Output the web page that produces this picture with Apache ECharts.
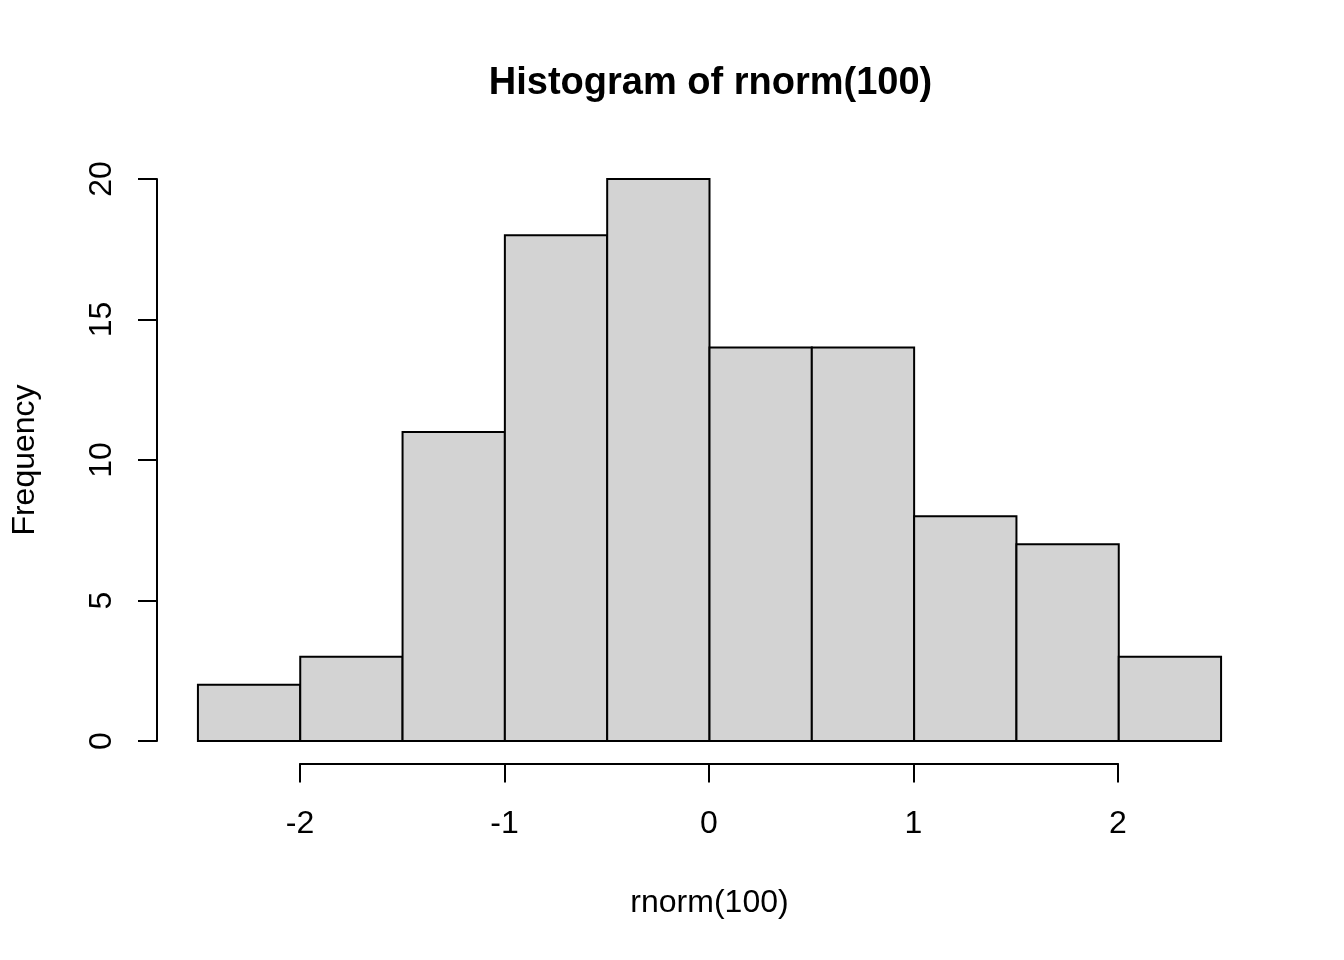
<!DOCTYPE html>
<html>
<head>
<meta charset="utf-8">
<script src="https://cdn.jsdelivr.net/npm/echarts@6/dist/echarts.min.js"></script>
<style>html,body{margin:0;padding:0;background:#fff;}#c{width:1344px;height:960px;}</style>
</head>
<body>
<div id="c"></div>
<script>
var binStarts = [-2.5, -2, -1.5, -1, -0.5, 0, 0.5, 1, 1.5, 2];
var binEnds   = [-2, -1.5, -1, -0.5, 0, 0.5, 1, 1.5, 2, 2.5];
var counts    = [2, 3, 11, 18, 20, 14, 14, 8, 7, 3];
var xTicks = [-2, -1, 0, 1, 2];
var yTicks = [0, 5, 10, 15, 20];

var FONT = '"Liberation Sans", Arial, sans-serif';
var chart = echarts.init(document.getElementById('c'), null, {renderer: 'canvas'});
var data = binStarts.map(function (s, i) { return [s, binEnds[i], counts[i]]; });

chart.setOption({
  backgroundColor: '#ffffff',
  animation: false,
  title: {
    text: 'Histogram of rnorm(100)',
    left: 705.5, top: 60, textAlign: 'center',
    textStyle: {fontFamily: FONT, fontSize: 38, fontWeight: 'bold', color: '#000'}
  },
  grid: [
    {left: 157, right: 82, top: 156.5, bottom: 196.5},
    {left: 300, right: 226, top: 156.5, bottom: 196.5},
    {left: 157, right: 82, top: 179, bottom: 219}
  ],
  xAxis: [
    {gridIndex: 0, type: 'value', min: -2.7, max: 2.7,
     axisLine: {show: false}, axisTick: {show: false}, axisLabel: {show: false}, splitLine: {show: false},
     name: 'rnorm(100)', nameLocation: 'middle', nameGap: 124,
     nameTextStyle: {fontFamily: FONT, fontSize: 32, color: '#000'}},
    {gridIndex: 1, type: 'value', min: xTicks[0], max: xTicks[xTicks.length - 1], interval: 1,
     axisLine: {show: true, lineStyle: {color: '#000', width: 2}},
     axisTick: {show: true, length: 19, lineStyle: {color: '#000', width: 2}},
     axisLabel: {show: true, margin: 45, fontFamily: FONT, fontSize: 32, color: '#000'},
     splitLine: {show: false}},
    {gridIndex: 2, type: 'value', show: false, min: 0, max: 1}
  ],
  yAxis: [
    {gridIndex: 0, type: 'value', min: -0.8, max: 20.8,
     axisLine: {show: false}, axisTick: {show: false}, axisLabel: {show: false}, splitLine: {show: false},
     name: 'Frequency', nameLocation: 'middle', nameGap: 116,
     nameTextStyle: {fontFamily: FONT, fontSize: 32, color: '#000'}},
    {gridIndex: 1, type: 'value', show: false, min: 0, max: 1},
    {gridIndex: 2, type: 'value', min: yTicks[0], max: yTicks[yTicks.length - 1], interval: 5,
     axisLine: {show: true, lineStyle: {color: '#000', width: 2}},
     axisTick: {show: true, length: 19, lineStyle: {color: '#000', width: 2}},
     axisLabel: {show: true, rotate: 90, margin: 39, fontFamily: FONT, fontSize: 32, color: '#000'},
     splitLine: {show: false}}
  ],
  series: [{
    type: 'custom',
    xAxisIndex: 0, yAxisIndex: 0,
    data: data,
    renderItem: function (params, api) {
      var p0 = api.coord([api.value(0), 0]);
      var p1 = api.coord([api.value(1), api.value(2)]);
      return {
        type: 'rect',
        shape: {x: p0[0], y: p1[1], width: p1[0] - p0[0], height: p0[1] - p1[1]},
        style: {fill: '#D3D3D3', stroke: '#000', lineWidth: 2}
      };
    }
  }]
});
</script>
</body>
</html>
